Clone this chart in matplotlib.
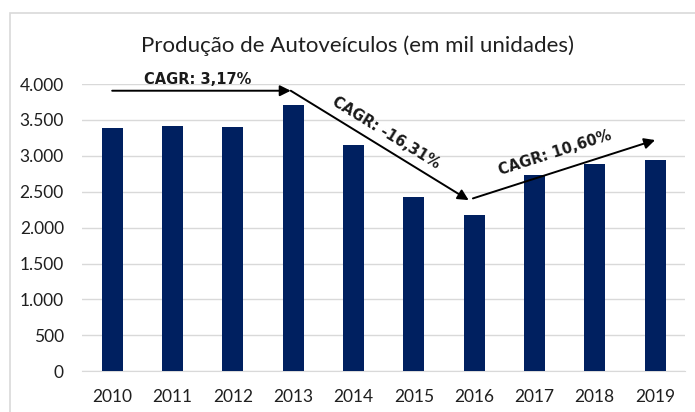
import numpy as np
import matplotlib
matplotlib.use('Agg')
import matplotlib.pyplot as plt
from matplotlib.patches import Rectangle

# data (mil unidades)
years = ['2010', '2011', '2012', '2013', '2014', '2015', '2016', '2017', '2018', '2019']
production = [3382, 3417, 3403, 3712, 3146, 2429, 2174, 2736, 2882, 2945]
cagr_labels = ['CAGR: 3,17%', 'CAGR: -16,31%', 'CAGR: 10,60%']
yticks = [0, 500, 1000, 1500, 2000, 2500, 3000, 3500, 4000]

fig = plt.figure(figsize=(6.95, 4.12), dpi=100)
ax = fig.add_axes([0.118, 0.099, 0.868, 0.697])

x = np.arange(len(years))
ax.bar(x, production, width=0.35, color='#002060', zorder=3)

ax.set_xlim(-0.5, len(years) - 0.5)
ax.set_ylim(0, 4000)
ax.set_yticks(yticks)
ax.set_yticklabels([f'{v:,}'.replace(',', '.') for v in yticks])
ax.set_xticks(x)
ax.set_xticklabels(years)
for lab in ax.get_xticklabels() + ax.get_yticklabels():
    lab.set_fontfamily('Lato')
    lab.set_fontsize(12.5)
    lab.set_color('#1f1f1f')
ax.tick_params(length=0)
ax.tick_params(axis='x', pad=13)
ax.tick_params(axis='y', pad=13)
ax.grid(axis='y', color='#d9d9d9', lw=1, zorder=0)
for s in ['top', 'right', 'left']:
    ax.spines[s].set_visible(False)
ax.spines['bottom'].set_color('#d9d9d9')

fig.text(0.514, 0.888, 'Produção de Autoveículos (em mil unidades)',
         ha='center', va='center', fontsize=16, family='Lato', color='#1f1f1f')

# CAGR arrows
arrows = [((0.0, 3907), (2.96, 3907)),
          ((2.96, 3907), (5.91, 2383)),
          ((5.98, 2407), (9.0, 3220))]
label_pos = [(1.41, 4065), (4.54, 3317), (7.34, 3038)]

fig.canvas.draw()
for (p0, p1), txt, pos in zip(arrows, cagr_labels, label_pos):
    ax.annotate('', xy=p1, xytext=p0, annotation_clip=False,
                arrowprops=dict(arrowstyle='-|>', lw=1.4, color='black',
                                mutation_scale=16, shrinkA=0, shrinkB=0), zorder=5)
    d0 = ax.transData.transform(p0)
    d1 = ax.transData.transform(p1)
    ang = np.degrees(np.arctan2(d1[1] - d0[1], d1[0] - d0[0]))
    ax.text(pos[0], pos[1], txt, rotation=ang, rotation_mode='anchor',
            ha='center', va='center', fontsize=10.5, fontweight='bold',
            family='DejaVu Sans', color='#1a1a1a', clip_on=False, zorder=6)

# light frame around the chart
fig.patches.append(Rectangle((10 / 695, -0.05), 1.0, 1 - 13 / 412 + 0.05,
                             transform=fig.transFigure, fill=False,
                             edgecolor='#d9d9d9', lw=1.2))

fig.savefig('out.png', dpi=100)
